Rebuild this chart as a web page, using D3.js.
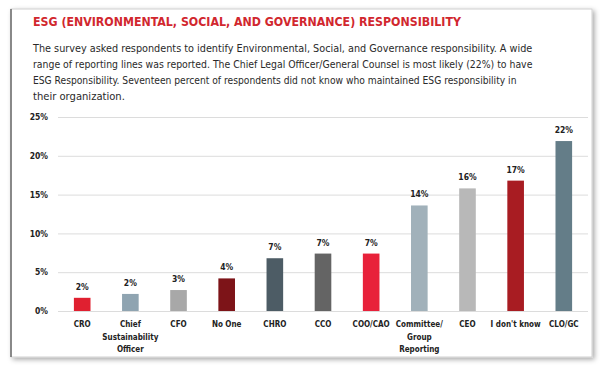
<!DOCTYPE html>
<html><head><meta charset="utf-8">
<script src="https://cdn.jsdelivr.net/npm/d3@7/dist/d3.min.js"></script>
<style>
html,body{margin:0;padding:0;background:#fff;}
svg{display:block;}
</style></head>
<body>
<script>
const title = "ESG (ENVIRONMENTAL, SOCIAL, AND GOVERNANCE) RESPONSIBILITY";
const bodyLines = [
  "The survey asked respondents to identify Environmental, Social, and Governance responsibility. A wide",
  "range of reporting lines was reported. The Chief Legal Officer/General Counsel is most likely (22%) to have",
  "ESG Responsibility. Seventeen percent of respondents did not know who maintained ESG responsibility in",
  "their organization."
];
const categories = ["CRO","Chief Sustainability Officer","CFO","No One","CHRO","CCO","COO/CAO","Committee/ Group Reporting","CEO","I don't know","CLO/GC"];
const categoryLines = [["CRO"],["Chief","Sustainability","Officer"],["CFO"],["No One"],["CHRO"],["CCO"],["COO/CAO"],["Committee/","Group","Reporting"],["CEO"],["I don't know"],["CLO/GC"]];
const values = [1.7, 2.2, 2.7, 4.2, 6.8, 7.4, 7.4, 13.6, 15.8, 16.8, 21.9];
const valueLabels = ["2%","2%","3%","4%","7%","7%","7%","14%","16%","17%","22%"];
const colors = ["#e02030","#8fa4b1","#a8a8a8","#7d1418","#4d5c65","#646464","#e8213a","#a1b1ba","#b8b8b8","#a81c22","#647d88"];
const yTicks = [0,5,10,15,20,25];

const W = 604, H = 368;
const svg = d3.select("body").append("svg").attr("width", W).attr("height", H);
const defs = svg.append("defs");
const f = defs.append("filter").attr("id","sh").attr("x","-5%").attr("y","-5%").attr("width","110%").attr("height","115%");
f.append("feDropShadow").attr("dx",2).attr("dy",2).attr("stdDeviation",2.5).attr("flood-color","#000").attr("flood-opacity",0.35);

svg.append("rect").attr("x",11).attr("y",9).attr("width",581).attr("height",348)
  .attr("fill","#fff").attr("stroke","#d0d0d0").attr("stroke-width",1).attr("filter","url(#sh)");
svg.append("line").attr("x1",11).attr("x2",11).attr("y1",9).attr("y2",357).attr("stroke","#6a6a6a").attr("stroke-width",1.5);

const font = "'Liberation Sans Narrow','DejaVu Sans Condensed','Roboto',sans-serif";

function fit(sel, base, target){
  sel.attr("font-size", base);
  const w = sel.node().getComputedTextLength();
  sel.attr("font-size", (base*target/w).toFixed(2));
}

const tt = svg.append("text").attr("x",33).attr("y",26).text(title)
  .attr("font-family",font).attr("font-weight",600).attr("fill","#d1272e");
fit(tt, 15, 428);

const bodyLens = [500, 500, 484, 92];
svg.append("g").selectAll("text").data(bodyLines).join("text")
  .attr("x",33).attr("y",(d,i)=>52+i*16).text(d=>d)
  .attr("font-family",font).attr("fill","#2a2a2a")
  .each(function(d,i){ fit(d3.select(this), 13, bodyLens[i]); });

const x = d3.scaleBand().domain(categories).range([58,588]).paddingInner(0.655).paddingOuter(0.33);
const y = d3.scaleLinear().domain([0,25]).range([311,117]);

const g = svg.append("g");
const yAxis = d3.axisLeft(y).tickValues(yTicks).tickFormat(d=>d+"%").tickSize(-530).tickPadding(10);
const ya = g.append("g").attr("transform","translate(58,0)").call(yAxis);
ya.select(".domain").remove();
ya.selectAll(".tick line").attr("stroke","#dcdcdc").attr("stroke-width",1);
ya.selectAll(".tick text").attr("font-family",font).attr("font-size",8.5).attr("font-weight",700).attr("fill","#222");

g.selectAll("rect.bar").data(values).join("rect").attr("class","bar")
  .attr("x",(d,i)=>x(categories[i])).attr("width",x.bandwidth())
  .attr("y",d=>y(d)).attr("height",d=>y(0)-y(d))
  .attr("fill",(d,i)=>colors[i]);

g.selectAll("text.vl").data(values).join("text").attr("class","vl")
  .attr("x",(d,i)=>x(categories[i])+x.bandwidth()/2).attr("y",d=>y(d)-8)
  .attr("text-anchor","middle").text((d,i)=>valueLabels[i])
  .attr("font-family",font).attr("font-size",8.5).attr("font-weight",700).attr("fill","#222");

const xa = g.append("g").attr("transform","translate(0,311)")
  .call(d3.axisBottom(x).tickSize(0).tickPadding(0).tickFormat(""));
xa.select(".domain").remove();
xa.selectAll(".tick").each(function(d,i){
  const t = d3.select(this).append("text").attr("text-anchor","middle")
    .attr("font-family",font).attr("font-size",8).attr("font-weight",700).attr("fill","#222");
  categoryLines[i].forEach((ln,j)=>{
    t.append("tspan").attr("x",0).attr("y",16+j*12.7).text(ln);
  });
});
</script>
</body></html>
